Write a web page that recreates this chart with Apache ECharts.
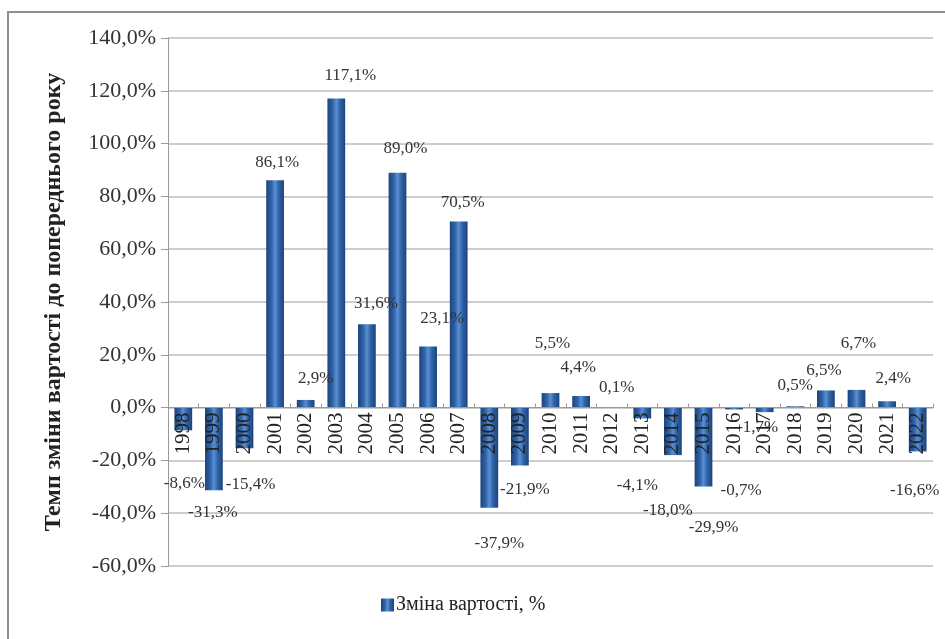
<!DOCTYPE html>
<html>
<head>
<meta charset="utf-8">
<script src="https://cdn.jsdelivr.net/npm/echarts@6/dist/echarts.min.js"></script>
<style>
  html, body { margin: 0; padding: 0; background: #fff; }
  #chart { width: 945px; height: 639px; }
</style>
</head>
<body>
<div id="chart"></div>
<script>
// Years on the category axis
const years = ['1998','1999','2000','2001','2002','2003','2004','2005','2006','2007',
  '2008','2009','2010','2011','2012','2013','2014','2015','2016','2017',
  '2018','2019','2020','2021','2022'];

// Year-over-year change in value, %
const changePct = [-8.6, -31.3, -15.4, 86.1, 2.9, 117.1, 31.6, 89.0, 23.1, 70.5,
  -37.9, -21.9, 5.5, 4.4, 0.1, -4.1, -18.0, -29.9, -0.7, -1.7,
  0.5, 6.5, 6.7, 2.4, -16.6];

// Value axis ticks
const yMin = -60, yMax = 140, yStep = 20;

const seriesName = 'Зміна вартості, %';
const axisTitle = 'Темп зміни вартості до попереднього року';

// Hand-placed nudges for the value labels [dx, dy]
const labelNudge = [
  [1, 40], [-1, 9], [6, 23], [2, -4], [10, -8], [14, -9], [9, -7], [8, -11], [14, -15], [4, -5],
  [10, 22], [5, 11], [2, -36], [-3, -15], [5, -6], [-5, 54], [-5, 42], [10, 27], [7, 68], [-7, 2],
  [0, -7], [-2, -6], [2, -33], [6, -9], [-3, 26]
];

const fmt = v => v.toFixed(1).replace('.', ',') + '%';
const serif = '"Liberation Serif", "Times New Roman", serif';

// Plot box
const gridTop = 38, gridBottom = 73, chartHeight = 639;
const plotHeight = chartHeight - gridTop - gridBottom;
// Lift the category axis (line and year labels) up to the zero level
const zeroLift = -plotHeight * (0 - yMin) / (yMax - yMin);

const barFill = new echarts.graphic.LinearGradient(0, 0, 1, 0, [
  { offset: 0, color: '#1c437c' },
  { offset: 0.3, color: '#2f64a8' },
  { offset: 0.5, color: '#5a8fd4' },
  { offset: 0.7, color: '#2f64a8' },
  { offset: 1, color: '#1c437c' }
]);

const chart = echarts.init(document.getElementById('chart'));

chart.setOption({
  backgroundColor: '#fff',
  animation: false,
  graphic: [{
    type: 'rect',
    z: -10,
    shape: { x: 8, y: 12, width: 1000, height: 700 },
    style: { fill: '#fff', stroke: '#8e8e8e', lineWidth: 2 }
  }],
  grid: { left: 168, right: 12, top: gridTop, bottom: gridBottom },
  legend: {
    bottom: 19,
    left: 376,
    itemWidth: 13,
    itemHeight: 13,
    itemGap: 4,
    icon: 'rect',
    textStyle: { fontFamily: serif, fontSize: 20, color: '#222', padding: [0, 0, 0, -3] },
    data: [seriesName]
  },
  xAxis: {
    type: 'category',
    data: years,
    z: 5,
    offset: zeroLift,
    axisLine: { onZero: false, lineStyle: { color: '#9a9a9a', width: 1 } },
    axisTick: { show: true, length: 4, inside: true, lineStyle: { color: '#9a9a9a' } },
    axisLabel: {
      rotate: 90,
      margin: 5,
      interval: 0,
      fontFamily: serif,
      fontSize: 21,
      color: '#222'
    }
  },
  yAxis: {
    type: 'value',
    min: yMin,
    max: yMax,
    interval: yStep,
    name: axisTitle,
    nameLocation: 'middle',
    nameGap: 102,
    nameRotate: 90,
    nameTextStyle: { fontFamily: serif, fontSize: 24, fontWeight: 'bold', color: '#222' },
    axisLine: { show: true, lineStyle: { color: '#9a9a9a' } },
    axisTick: { show: true, length: 7, lineStyle: { color: '#9a9a9a' } },
    axisLabel: {
      margin: 12,
      fontFamily: serif,
      fontSize: 22,
      color: '#333',
      formatter: v => fmt(v)
    },
    splitLine: { show: true, lineStyle: { color: '#bcbcbc', width: 1.5 } }
  },
  series: [{
    name: seriesName,
    type: 'bar',
    barWidth: '58%',
    itemStyle: { color: barFill },
    data: changePct.map((v, i) => ({
      value: v,
      label: {
        show: true,
        position: v >= 0 ? 'top' : 'bottom',
        distance: 5,
        offset: labelNudge[i],
        formatter: fmt(v),
        fontFamily: serif,
        fontSize: 17,
        color: '#333'
      }
    }))
  }]
});
</script>
</body>
</html>
